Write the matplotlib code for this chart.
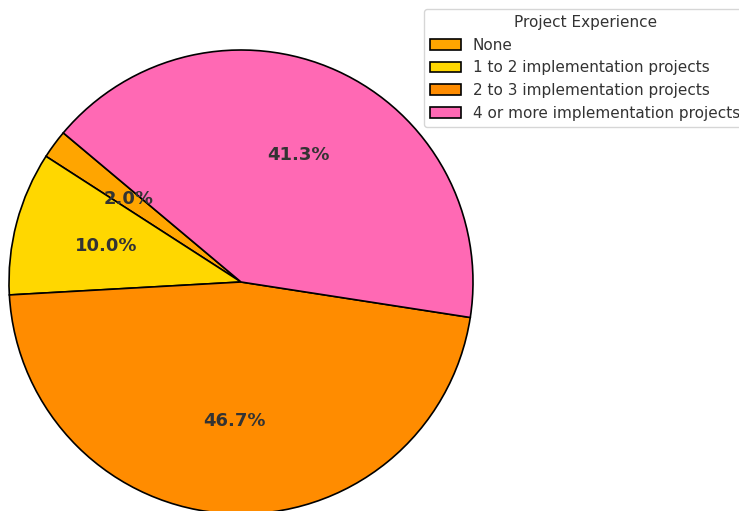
import matplotlib
matplotlib.use("Agg")
import matplotlib.pyplot as plt

categories = ["None", "1 to 2 implementation projects",
              "2 to 3 implementation projects", "4 or more implementation projects"]
counts = [3, 15, 70, 62]
colors = ["#FFA500", "#FFD700", "#FF8C00", "#FF69B4"]

W, H = 739, 511
fig = plt.figure(figsize=(W / 100, H / 100), dpi=100)

# pie centre and radius in pixels
cx, cy, r = 241, 282, 232
ext = 1.05
ax = fig.add_axes([(cx - r * ext) / W, (H - cy - r * ext) / H,
                   2 * r * ext / W, 2 * r * ext / H])

wedges, texts, autotexts = ax.pie(
    counts, colors=colors, startangle=140, autopct="%1.1f%%",
    pctdistance=0.6, wedgeprops=dict(edgecolor="black", linewidth=1.2),
    textprops=dict(color="#333333", fontsize=13, fontweight="bold"),
)
ax.set_xlim(-ext, ext)
ax.set_ylim(-ext, ext)
ax.set_aspect("equal")
ax.axis("off")

leg = fig.legend(wedges, categories, title="Project Experience",
                 loc="upper left", bbox_to_anchor=(424 / W, 1 - 9 / H),
                 borderaxespad=0, fontsize=11, title_fontsize=11,
                 labelcolor="#333333")
leg.get_title().set_color("#333333")

fig.savefig("out.png", dpi=100)
